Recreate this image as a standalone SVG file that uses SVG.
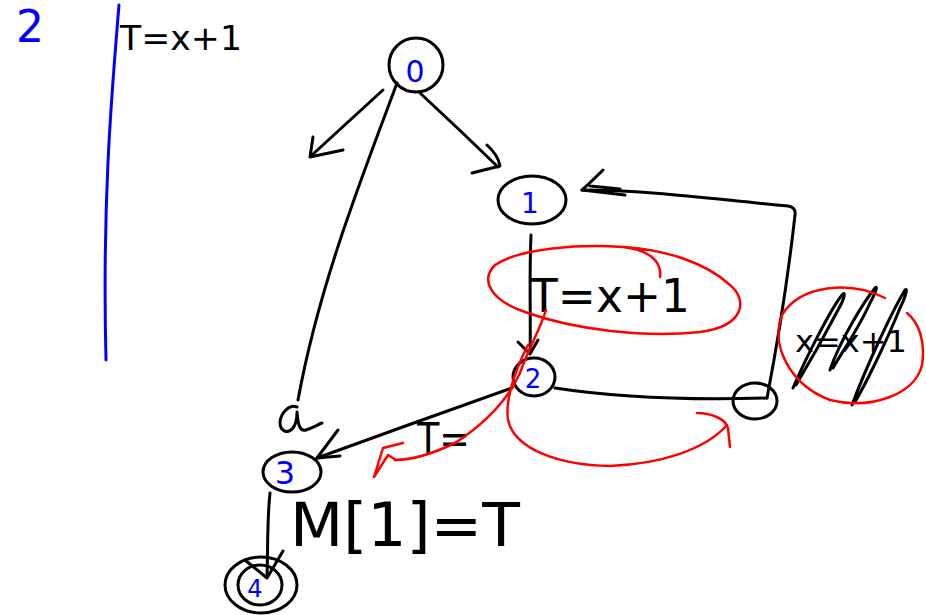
<svg xmlns="http://www.w3.org/2000/svg" width="926" height="615" viewBox="0 0 926 615">
<style>
.k{fill:none;stroke:#000;stroke-width:3;stroke-linecap:round;stroke-linejoin:round}
.r{fill:none;stroke:#f00;stroke-width:2.5;stroke-linecap:round;stroke-linejoin:round}
.b{fill:none;stroke:#00f;stroke-width:3;stroke-linecap:round}
.tk{font-family:"DejaVu Sans","Liberation Sans",sans-serif;fill:#000}
.tb{font-family:"DejaVu Sans","Liberation Sans",sans-serif;fill:#00f;text-anchor:middle}
</style>
<rect width="926" height="615" fill="#fff"/>
<g id="header">
<text class="tb" x="30" y="42" font-size="44">2</text>
<path class="b" d="M119,5 C112,90 102,200 106,360"/>
<text class="tk" x="120" y="50" font-size="34" textLength="122" lengthAdjust="spacingAndGlyphs">T=x+1</text>
</g>
<g id="connectors">
<path class="k" d="M383,90 Q345,125 312,155"/><path class="k" d="M313,137 L310,157 L343,150"/>
<path class="k" d="M420,93 Q460,130 498,167"/><path class="k" d="M487,145 Q498,155 500,166 L472,173"/>
<path class="k" d="M397,83 C365,170 320,280 298,400"/>
<path class="k" d="M297,407 C290,404 281,412 280,422 C280,432 288,434 293,428 C296,424 297,418 297,412 C298,425 300,432 306,430 C312,428 317,425 322,423"/>
<path class="k" d="M531,235 C529,280 531,320 530,353"/><path class="k" d="M518,342 L530,354 L538,340"/>
<path class="k" d="M512,388 C450,410 380,435 317,458"/><path class="k" d="M338,430 L317,458 L340,456"/>
<path class="k" d="M555,388 C620,398 700,400 767,398"/>
<path class="k" d="M767,398 C780,330 790,260 795,215 Q796,207 788,206 C720,200 650,190 582,190"/>
<path class="k" d="M603,170 Q590,183 582,190 L625,195 M590,186 L620,189"/>
<path class="k" d="M270,493 C267,520 268,550 267,577"/><path class="k" d="M283,551 L267,578 M245,560 L267,578"/>
</g>
<g id="node0"><ellipse class="k" cx="416" cy="65" rx="27" ry="27"/><text class="tb" x="415" y="82" font-size="30">0</text></g>
<g id="node1"><ellipse class="k" cx="532" cy="200" rx="34" ry="24"/><text class="tb" x="530" y="213" font-size="28">1</text></g>
<g id="node2"><ellipse class="k" cx="534" cy="377" rx="21" ry="19"/><text class="tb" x="533" y="388" font-size="26">2</text></g>
<g id="node3"><ellipse class="k" cx="292" cy="472" rx="29" ry="20"/><text class="tb" x="285" y="484" font-size="32">3</text></g>
<g id="node4"><ellipse class="k" cx="261" cy="585" rx="36" ry="28"/><ellipse class="k" cx="260" cy="585" rx="22" ry="20"/><text class="tb" x="255" y="597" font-size="24">4</text></g>
<g id="node5"><ellipse class="k" cx="755" cy="401" rx="22" ry="18"/></g>
<g id="labels">
<text class="tk" x="530" y="312" font-size="46" textLength="160" lengthAdjust="spacingAndGlyphs">T=x+1</text>
<text class="tk" x="417" y="453" font-size="42" textLength="53" lengthAdjust="spacingAndGlyphs">T=</text>
<text class="tk" x="290" y="546" font-size="60" textLength="230" lengthAdjust="spacingAndGlyphs">M[1]=T</text>
<text class="tk" x="795" y="352" font-size="30" textLength="112" lengthAdjust="spacingAndGlyphs">x=x+1</text>
<path class="k" d="M793,388 C805,360 830,310 842,295 C846,290 845,298 838,310 C825,335 808,365 796,385"/>
<path class="k" d="M830,370 C840,340 865,300 875,288 C878,285 876,292 870,303 C858,330 840,355 833,368"/>
<path class="k" d="M852,405 C865,370 890,315 905,290 C908,287 906,296 900,308 C885,345 865,385 855,402"/>
</g>
<g id="annotations">
<path class="r" d="M660,277 C662,262 650,250 623,247 C580,244 520,248 495,265 C480,280 490,300 525,312 C575,330 645,338 700,332 C745,326 748,300 730,285 C705,262 665,250 625,247"/>
<path class="r" d="M546,310 C540,330 530,345 520,373 C510,395 490,420 455,443 C430,455 410,460 395,460"/>
<path class="r" d="M403,443 L383,448 L374,477 L388,455 L396,460"/>
<path class="r" d="M528,345 C515,370 505,400 508,420 C515,450 560,465 610,466 C660,464 705,450 727,425"/>
<path class="r" d="M697,413 C710,413 725,418 728,428 L730,447"/>
<path class="r" d="M885,298 C850,280 800,285 782,315 C770,345 790,385 830,400 C870,410 915,395 922,365 C926,340 918,322 907,313"/>
</g>
</svg>
